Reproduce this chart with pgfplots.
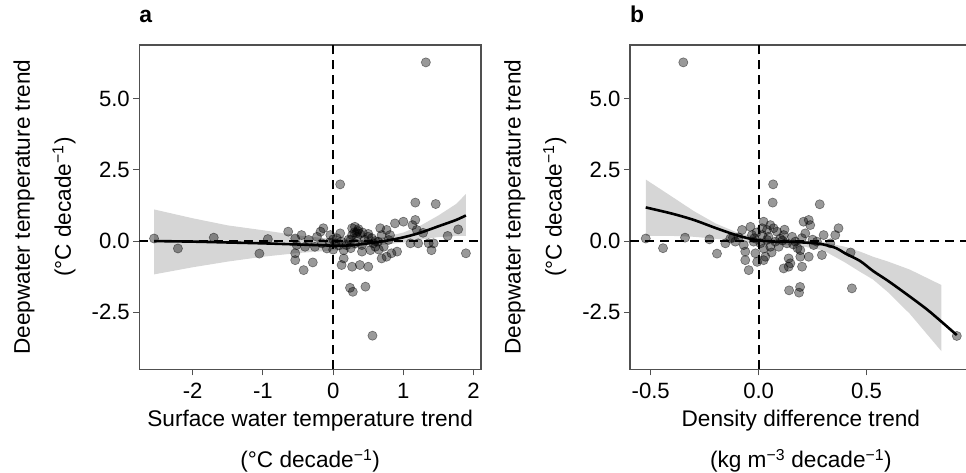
\documentclass[border=0pt]{standalone}
\usepackage{fontspec}
\setmainfont{Liberation Sans}
\usepackage{pgfplots}
\usepackage{pgfplotstable}
\pgfplotsset{compat=1.18}

\definecolor{framegray}{RGB}{80,80,80}
\definecolor{ribbon}{RGB}{214,214,214}

% surface water temperature trend vs deepwater trend
\pgfplotstableread{
x y
-2.55 0.09
-2.21 -0.26
-1.70 0.12
-1.05 -0.44
-0.93 0.07
-0.64 0.33
-0.54 0.09
-0.45 0.21
-0.52 -0.14
-0.40 -0.20
-0.54 -0.43
-0.54 -0.67
-0.42 -1.02
-0.29 -0.75
-0.35 0.04
-0.23 0.15
-0.18 0.33
-0.14 0.45
-0.26 -0.20
-0.16 -0.08
-0.09 -0.26
-0.04 0.21
0.00 0.06
0.03 -0.08
0.10 0.27
0.12 -0.02
0.15 -0.32
0.15 -0.61
0.12 -0.84
0.10 1.99
0.27 0.45
0.31 0.50
0.27 0.21
0.34 0.15
0.25 0.04
0.31 -0.08
0.19 -0.14
0.41 -0.14
0.41 -0.37
0.27 -0.90
0.38 -0.84
0.50 -0.90
0.50 0.15
0.57 -0.08
0.53 -0.32
0.67 0.45
0.69 0.21
0.76 0.39
0.64 -0.02
0.72 -0.20
0.79 0.04
0.81 0.21
0.69 -0.61
0.76 -0.55
0.83 -0.43
0.91 -0.37
0.88 0.62
1.00 0.68
1.17 0.74
1.13 0.56
1.19 0.39
1.10 -0.08
1.21 -0.08
1.36 -0.08
1.43 -0.08
1.40 -0.32
1.17 1.35
1.46 1.30
1.28 0.29
1.63 0.18
1.78 0.41
1.89 -0.43
0.24 -1.64
0.28 -1.78
0.46 -1.60
0.56 -3.32
1.32 6.27
0.35 0.35
0.38 0.25
0.42 0.30
0.30 0.30
0.45 0.05
0.50 0.25
0.55 0.10
0.60 0.00
0.22 0.05
0.05 0.10
-0.05 -0.05
0.08 -0.15
0.60 -0.20
0.65 -0.30
0.00 -0.30
0.25 -0.25
0.36 0.42
0.33 0.28
}\surfpts

% density difference trend vs deepwater trend
\pgfplotstableread{
x y
-0.523 0.09
-0.443 -0.25
-0.341 0.12
-0.228 0.06
-0.193 -0.44
-0.154 -0.08
-0.119 0.12
-0.131 0.09
-0.108 -0.02
-0.093 0.13
-0.077 0.39
-0.038 0.50
-0.031 0.21
-0.069 -0.14
-0.062 -0.37
-0.062 -0.67
-0.046 -1.02
-0.015 -0.43
-0.007 -0.73
-0.023 -0.02
0.023 0.68
0.016 0.45
0.039 0.39
0.054 0.56
0.069 0.45
0.085 0.33
0.016 0.21
0.039 0.04
0.008 -0.08
0.023 -0.26
0.054 -0.20
0.077 -0.02
0.031 -0.55
0.023 -0.67
0.093 -0.20
0.100 0.09
0.116 0.21
0.131 -0.08
0.139 -0.61
0.147 -0.78
0.116 -0.96
0.139 -0.90
0.155 0.15
0.170 -0.02
0.193 -0.32
0.193 -0.55
0.201 -0.90
0.208 0.68
0.232 0.74
0.239 0.56
0.216 0.27
0.232 -0.55
0.255 -0.14
0.270 -0.02
0.293 -0.49
0.301 0.21
0.332 -0.08
0.355 0.21
0.370 0.45
0.067 1.99
0.065 1.35
0.283 1.29
0.426 -0.40
0.432 -1.66
0.141 -1.73
0.187 -1.81
0.192 -1.61
0.918 -3.33
-0.349 6.27
-0.010 0.30
0.045 0.15
0.110 0.02
0.160 -0.12
0.060 -0.40
-0.020 0.10
0.120 0.40
0.180 -0.25
0.250 0.05
0.200 0.10
}\denspts

\pgfplotsset{
  lakepanel/.style={
    scale only axis, width=341.7bp, height=324.3bp,
    anchor=south west,
    ymin=-4.5, ymax=6.88,
    axis line style={framegray, line width=1.1bp},
    tick style={framegray, line width=1.1bp},
    tick align=outside, major tick length=6bp,
    tick pos=left,
    ytick={-2.5,0,2.5,5}, yticklabels={-2.5,0.0,2.5,5.0},
    tick label style={font=\fontsize{22.2}{26}\selectfont, black},
    xticklabel style={yshift=-4bp},
    label style={font=\fontsize{22.7}{27}\selectfont, align=center},
    ylabel={Deepwater temperature trend\\[14bp](°C decade\textsuperscript{−1})},
    ylabel style={at={(axis description cs:0,0.5)}, anchor=center, yshift=94.8bp},
    xlabel style={at={(axis description cs:0.5,0)}, anchor=center, yshift=-72bp},
    title style={at={(axis description cs:0,1)}, anchor=base west, yshift=17bp,
      inner sep=0pt, font=\bfseries\fontsize{23}{27}\selectfont},
    clip=true,
  },
  pts/.style={only marks, mark=*, mark size=4.6bp,
    mark options={fill=black, fill opacity=0.4, draw=black, draw opacity=0.45, line width=0.6bp}},
  zero/.style={black, line width=1.8bp, dash pattern=on 9bp off 6bp},
  fit/.style={black, line width=2.6bp, smooth, tension=0.5},
}

\begin{document}
\begin{tikzpicture}
\begin{axis}[lakepanel, at={(139.3bp,103.7bp)},
  xmin=-2.76, xmax=2.105,
  xtick={-2,-1,0,1,2}, xticklabels={-2,-1,0,1,2},
  xlabel={Surface water temperature trend\\[14bp](°C decade\textsuperscript{−1})},
  title={a}]
  \addplot[fill=ribbon, draw=none] coordinates {
    (-2.55,1.11) (-2,0.80) (-1.5,0.55) (-1,0.38) (-0.5,0.20) (0,0.07) (0.25,0.04)
    (0.5,0.06) (0.75,0.15) (1,0.30) (1.25,0.55) (1.5,0.90) (1.75,1.30) (1.89,1.65)
    (1.89,0.18) (1.75,0.18) (1.5,0.14) (1.25,0.05) (1.0,-0.05) (0.75,-0.12) (0.5,-0.20)
    (0.25,-0.28) (0,-0.33) (-0.5,-0.42) (-1,-0.55) (-1.5,-0.72) (-2,-0.92) (-2.55,-1.17)};
  \addplot[pts] table {\surfpts};
  \addplot[zero] coordinates {(0,-4.5) (0,6.88)};
  \addplot[zero] coordinates {(-2.76,0) (2.105,0)};
  \addplot[fit] coordinates {
    (-2.55,0.0) (-2,-0.02) (-1.5,-0.05) (-1,-0.08) (-0.5,-0.12) (0,-0.16) (0.25,-0.15)
    (0.5,-0.08) (0.75,0.01) (1.0,0.13) (1.25,0.30) (1.5,0.52) (1.75,0.74) (1.89,0.90)};
\end{axis}
\begin{axis}[lakepanel, at={(630bp,103.7bp)},
  xmin=-0.596, xmax=0.987,
  xtick={-0.5,0,0.5}, xticklabels={-0.5,0.0,0.5},
  xlabel={Density difference trend\\[14bp](kg m\textsuperscript{−3} decade\textsuperscript{−1})},
  title={b}]
  \addplot[fill=ribbon, draw=none] coordinates {
    (-0.523,2.16) (-0.4,1.55) (-0.3,1.05) (-0.2,0.62) (-0.1,0.30) (0,0.12) (0.1,0.06)
    (0.2,0.02) (0.3,-0.04) (0.4,-0.20) (0.47,-0.37) (0.53,-0.55) (0.6,-0.72) (0.7,-1.0) (0.846,-1.54)
    (0.846,-3.86) (0.7,-2.55) (0.6,-1.8) (0.53,-1.35) (0.47,-1.08) (0.4,-0.75) (0.3,-0.33)
    (0.2,-0.18) (0.1,-0.12) (0,-0.10) (-0.1,0.0) (-0.2,0.08) (-0.3,0.15) (-0.4,0.18) (-0.523,0.18)};
  \addplot[pts] table {\denspts};
  \addplot[zero] coordinates {(0,-4.5) (0,6.88)};
  \addplot[zero] coordinates {(-0.596,0) (0.987,0)};
  \addplot[fit] coordinates {
    (-0.523,1.18) (-0.4,0.96) (-0.3,0.74) (-0.2,0.46) (-0.1,0.20) (-0.02,0.05) (0.05,-0.01)
    (0.15,-0.03) (0.25,-0.07) (0.3,-0.12) (0.36,-0.25) (0.4,-0.43) (0.47,-0.70) (0.53,-1.05)
    (0.6,-1.40) (0.69,-1.89) (0.78,-2.40) (0.85,-2.85) (0.918,-3.30)};
\end{axis}
\pgfresetboundingbox
\useasboundingbox (0,0) rectangle (966bp,473bp);
\end{tikzpicture}
\end{document}
